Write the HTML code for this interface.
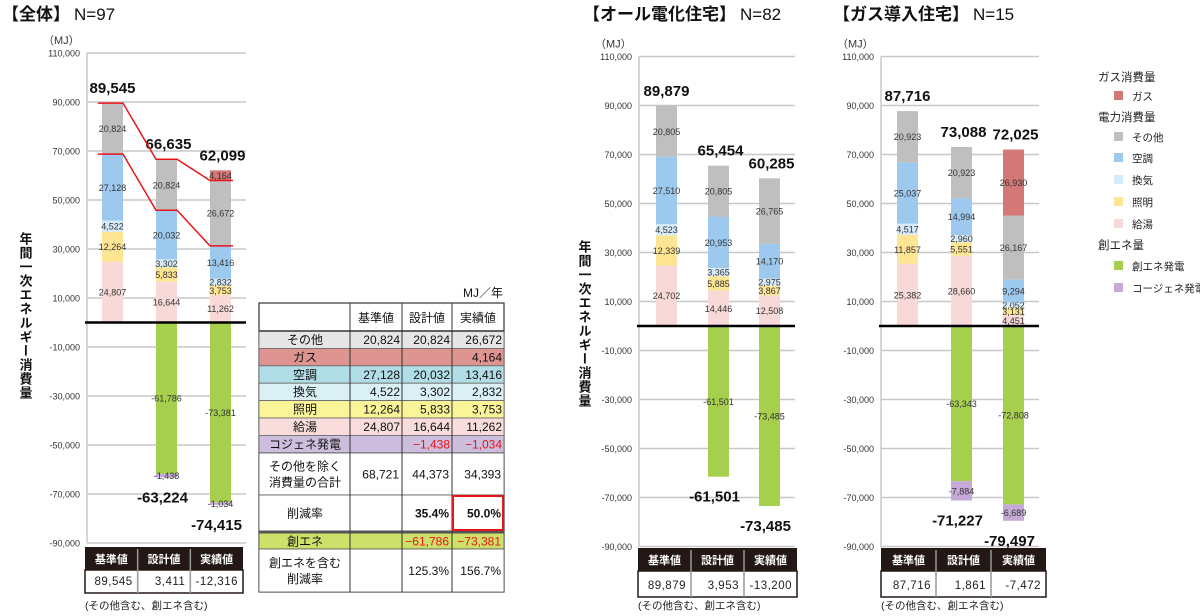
<!DOCTYPE html>
<html><head><meta charset="utf-8">
<style>
html,body{margin:0;padding:0;background:#fff;}
svg{display:block;font-family:"Liberation Sans","Noto Sans CJK JP",sans-serif;}
</style></head>
<body>
<svg id="root" width="1200" height="616" viewBox="0 0 1200 616" xmlns="http://www.w3.org/2000/svg">
<text x="2" y="20" font-size="17" font-weight="bold" fill="#111">【全体】<tspan font-weight="normal" dx="4">N=97</tspan></text>
<text x="583" y="20" font-size="17" font-weight="bold" fill="#111">【オール電化住宅】<tspan font-weight="normal" dx="4">N=82</tspan></text>
<text x="833" y="20" font-size="17" font-weight="bold" fill="#111">【ガス導入住宅】<tspan font-weight="normal" dx="4">N=15</tspan></text>
<g id="charts"></g>
<g id="table"></g>
<g id="legend"></g>
</svg>
<script>
// ---- data ----
const categories = ['基準値','設計値','実績値'];
const seriesNames = ['給湯','照明','換気','空調','その他','ガス'];
const negNames = ['創エネ','コジェネ'];
const tickValues = [110000,90000,70000,50000,30000,10000,-10000,-30000,-50000,-70000,-90000];
const tickLabels = ['110,000','90,000','70,000','50,000','30,000','10,000','-10,000','-30,000','-50,000','-70,000','-90,000'];
// chart A (全体)
const allHotWater = [24807,16644,11262];
const allLighting = [12264,5833,3753];
const allVent = [4522,3302,2832];
const allAC = [27128,20032,13416];
const allOther = [20824,20824,26672];
const allGas = [0,0,4164];
const allGen = [0,-61786,-73381];
const allCogen = [0,-1438,-1034];
const allNet = ['89,545','3,411','-12,316'];
// chart B (オール電化)
const elHotWater = [24702,14446,12508];
const elLighting = [12339,5885,3867];
const elVent = [4523,3365,2975];
const elAC = [27510,20953,14170];
const elOther = [20805,20805,26765];
const elGas = [0,0,0];
const elGen = [0,-61501,-73485];
const elCogen = [0,0,0];
const elNet = ['89,879','3,953','-13,200'];
// chart C (ガス導入)
const gsHotWater = [25382,28660,4451];
const gsLighting = [11857,5551,3131];
const gsVent = [4517,2960,2052];
const gsAC = [25037,14994,9294];
const gsOther = [20923,20923,26167];
const gsGas = [0,0,26930];
const gsGen = [0,-63343,-72808];
const gsCogen = [0,-7884,-6689];
const gsNet = ['87,716','1,861','-7,472'];

const colors = {'給湯':'#f7d9d8','照明':'#fde593','換気':'#d6ebf9','空調':'#9dc9ee','その他':'#bfbfbf','ガス':'#d37777','創エネ':'#a5cf4c','コジェネ':'#c5a9d6'};
const NS='http://www.w3.org/2000/svg';
function mk(tag, attrs, parent){const e=document.createElementNS(NS,tag);for(const k in attrs)e.setAttribute(k,attrs[k]);parent.appendChild(e);return e;}
const fmt = v => (v<0?'-':'')+Math.abs(v).toLocaleString('en-US');

function drawChart(cfg){
  const g = mk('g',{},document.getElementById('charts'));
  
  
  const k = 0.00245;
  const y = v => cfg.zero - v*k;
  const bx = i => cfg.barX[i];
  const bw = 21;
  // grid
  tickValues.forEach((tv,i)=>{
    const l = mk('line',{x1:cfg.axisX,x2:cfg.gridEnd,y1:y(tv),y2:y(tv),stroke:'#c8c8c8','stroke-width':1.5},g);
    
    
    const t = mk('text',{x:cfg.axisX-7,y:y(tv)+3.5,'font-size':9,'text-anchor':'end',fill:'#333'},g);
    t.textContent = tickLabels[i];
    
    
  });
  const ax = mk('line',{x1:cfg.axisX,x2:cfg.axisX,y1:y(110000),y2:y(-90000),stroke:'#c8c8c8','stroke-width':1.5},g);
  
  
  const mj = mk('text',{x:cfg.axisX-44,y:y(110000)-9,'font-size':11,fill:'#333'},g);
  mj.textContent='（MJ）';
  
  
  if(cfg.yTitle){
    const yt = mk('text',{x:cfg.yTitleX,y:cfg.yTitleY,'font-size':13,'font-weight':'bold','writing-mode':'tb',fill:'#111','letter-spacing':1},g);
    yt.textContent='年間一次エネルギー消費量';
    
    
  }
  categories.forEach((c,i)=>{
    let cum=0;
    cfg.pos.forEach((arr,si)=>{
      const v=arr[i]; if(!v) return;
      const r=mk('rect',{x:bx(i),y:y(cum+v),width:bw,height:v*k,fill:colors[seriesNames[si]]},g);
      
      
      const t=mk('text',{x:bx(i)+bw/2,y:y(cum+v/2)+3.5,'font-size':9,'text-anchor':'middle',fill:'#333'},g);
      t.textContent=fmt(v);
      
      
      cum+=v;
    });
    if(cum>0){
      const t=mk('text',{x:bx(i)+bw/2+(i===0?0:2),y:y(cum)-10,'font-size':15,'font-weight':'bold','text-anchor':'middle',fill:'#111'},g);
      t.textContent=fmt(cum);
      
      
    }
    let ncum=0;
    cfg.neg.forEach((arr,si)=>{
      const v=arr[i]; if(!v) return;
      const r=mk('rect',{x:bx(i),y:y(ncum),width:bw,height:-v*k,fill:colors[negNames[si]]},g);
      
      
      const t=mk('text',{x:bx(i)+bw/2,y:y(ncum+v/2)+3.5,'font-size':9,'text-anchor':'middle',fill:'#333'},g);
      t.textContent=fmt(v);
      
      
      ncum+=v;
    });
    if(ncum<0){
      const t=mk('text',{x:bx(i)+bw/2-4,y:y(ncum)+25,'font-size':15,'font-weight':'bold','text-anchor':'middle',fill:'#111'},g);
      t.textContent=fmt(ncum);
      
      
    }
  });
  const base = mk('line',{x1:cfg.axisX-2,x2:cfg.gridEnd,y1:y(0),y2:y(0),stroke:'#000','stroke-width':2.5},g);
  
  
  if(cfg.redLines){
    const tops=[],mids=[];
    categories.forEach((c,i)=>{
      let s=0; cfg.pos.slice(0,5).forEach(a=>s+=a[i]);
      tops.push(s); mids.push(s-cfg.pos[4][i]);
    });
    [tops,mids].forEach(vals=>{
      let d='';
      vals.forEach((v,i)=>{d+=(i?'L':'M')+(bx(i)-(i===0?4:0))+','+y(v)+'L'+(bx(i)+bw+(i===2?2:0))+','+y(v);});
      const p=mk('path',{d:d,fill:'none',stroke:'#e8141b','stroke-width':1.5},g);
      
      
    });
  }
  // bottom table
  const tx=cfg.tblX, tw=cfg.tblW, ty=cfg.tblY, cw=tw/3;
  const hdr=mk('rect',{x:tx,y:ty,width:tw,height:23,fill:'#231815'},g);
  
  
  const body=mk('rect',{x:tx,y:ty+23,width:tw,height:cfg.tblH-23,fill:'#fff',stroke:'#231815','stroke-width':1.5},g);
  
  
  categories.forEach((c,i)=>{
    if(i>0){const l=mk('line',{x1:tx+cw*i,x2:tx+cw*i,y1:ty+2,y2:ty+cfg.tblH,stroke:i? '#999':'#000','stroke-width':1.5},g);
      
      }
    const h=mk('text',{x:tx+cw*i+cw/2,y:ty+16,'font-size':11,'font-weight':'bold','text-anchor':'middle',fill:'#fff'},g);
    h.textContent=c;
    
    
    const v=mk('text',{x:tx+cw*i+cw-5,y:ty+cfg.tblH-8,'font-size':11.5,'text-anchor':'end',fill:'#222','letter-spacing':0.5},g);
    v.textContent=cfg.net[i];
    
    
  });
  const fn=mk('text',{x:tx,y:cfg.noteY,'font-size':10.5,fill:'#222'},g);
  fn.textContent='(その他含む、創エネ含む)';
  
  
}

drawChart({id:'all',zero:322.5,axisX:87,gridEnd:246,barX:[102,156,210],pos:[allHotWater,allLighting,allVent,allAC,allOther,allGas],neg:[allGen,allCogen],net:allNet,redLines:true,yTitle:true,yTitleX:25,yTitleY:232,tblX:85,tblW:158,tblY:547,tblH:46,noteY:609});
drawChart({id:'electric',zero:326,axisX:639,gridEnd:795,barX:[656,708,759],pos:[elHotWater,elLighting,elVent,elAC,elOther,elGas],neg:[elGen,elCogen],net:elNet,redLines:false,yTitle:true,yTitleX:584,yTitleY:240,tblX:638,tblW:159,tblY:548,tblH:49,noteY:609});
drawChart({id:'gas',zero:326,axisX:881,gridEnd:1039,barX:[897,951,1003],pos:[gsHotWater,gsLighting,gsVent,gsAC,gsOther,gsGas],neg:[gsGen,gsCogen],net:gsNet,redLines:false,yTitle:false,tblX:881,tblW:165,tblY:548,tblH:49,noteY:609});

// ---- summary table ----
const tblRowLabels = ['その他','ガス','空調','換気','照明','給湯','コジェネ発電'];
const tblBase = ['20,824','','27,128','4,522','12,264','24,807',''];
const tblDesign = ['20,824','','20,032','3,302','5,833','16,644','−1,438'];
const tblActual = ['26,672','4,164','13,416','2,832','3,753','11,262','−1,034'];
const tblFills = ['#e6e6e6','#de9591','#b0dde6','#daf0f4','#fbf59a','#f9dcdc','#cdbedd'];
(function(){
  const g=document.getElementById('table');
  const X=[259,350,402,452,504];
  const unit=mk('text',{x:503,y:297,'font-size':12,'text-anchor':'end',fill:'#111'},g);
  unit.textContent='MJ／年';
  
  
  const outer=mk('rect',{x:259,y:303,width:245,height:289,fill:'#fff',stroke:'#333','stroke-width':1.2},g);
  
  
  ['基準値','設計値','実績値'].forEach((h,i)=>{
    const t=mk('text',{x:(X[i+1]+X[i+2])/2,y:322,'font-size':12,'text-anchor':'middle',fill:'#111'},g);
    t.textContent=h;
    
    
  });
  const rh=17.4; let ry=331;
  tblRowLabels.forEach((lab,r)=>{
    const rr=mk('rect',{x:259,y:ry,width:245,height:rh,fill:tblFills[r],stroke:'#666','stroke-width':0.8},g);
    
    
    const t=mk('text',{x:305,y:ry+13,'font-size':12,'text-anchor':'middle',fill:'#111'},g);
    t.textContent=lab;
    
    
    [tblBase,tblDesign,tblActual].forEach((arr,c)=>{
      const v=mk('text',{x:X[c+2]-2,y:ry+13,'font-size':12,'text-anchor':'end',fill:arr[r].startsWith('−')?'#e8141b':'#111'},g);
      v.textContent=arr[r];
      
      
    });
    ry+=rh;
  });
  // other rows
  const rows=[
    {y:453,h:42,lab:['その他を除く','消費量の合計'],vals:['68,721','44,373','34,393'],fill:'#fff'},
    {y:495,h:36,lab:['削減率'],vals:['','35.4%','50.0%'],fill:'#fff',bold:true},
    {y:533,h:16,lab:['創エネ'],vals:['','−61,786','−73,381'],fill:'#cde06a',red:true},
    {y:549,h:43,lab:['創エネを含む','削減率'],vals:['','125.3%','156.7%'],fill:'#fff'}
  ];
  rows.forEach(ro=>{
    const rr=mk('rect',{x:259,y:ro.y,width:245,height:ro.h,fill:ro.fill,stroke:'#555','stroke-width':0.8},g);
    
    
    ro.lab.forEach((l,j)=>{
      const t=mk('text',{x:305,y:ro.y+ro.h/2+4.5+(ro.lab.length>1?(j?8:-8):0),'font-size':12,'text-anchor':'middle',fill:'#111'},g);
      t.textContent=l;
      
      
    });
    ro.vals.forEach((v,c)=>{
      const t=mk('text',{x:X[c+2]-3,y:ro.y+ro.h/2+4.5,'font-size':12,'text-anchor':'end','font-weight':ro.bold?'bold':'normal',fill:ro.red?'#e8141b':'#111'},g);
      t.textContent=v;
      
      
    });
  });
  const sep=mk('line',{x1:259,x2:504,y1:532,y2:532,stroke:'#555','stroke-width':3},g);
  
  
  [350,402,452].forEach(x=>{
    const l=mk('line',{x1:x,x2:x,y1:303,y2:592,stroke:'#333','stroke-width':1},g);
    
    
  });
  const hl=mk('line',{x1:259,x2:504,y1:331,y2:331,stroke:'#333','stroke-width':1.5},g);
  
  
  const box=mk('rect',{x:453,y:496,width:50,height:34,fill:'none',stroke:'#e8141b','stroke-width':2},g);
  
  
})();

// ---- legend ----
const legendItems = [['h','ガス消費量'],['i','ガス'],['h','電力消費量'],['i','その他'],['i','空調'],['i','換気'],['i','照明'],['i','給湯'],['h','創エネ量'],['i','創エネ発電'],['i','コージェネ発電']];
const legendColors = {'ガス':'#d37777','その他':'#bfbfbf','空調':'#9dc9ee','換気':'#d6ebf9','照明':'#fde593','給湯':'#f7d9d8','創エネ発電':'#a5cf4c','コージェネ発電':'#c5a9d6'};
(function(){
  const g=document.getElementById('legend');
  const ys=[77,96,117,137,158,180,202,224,245,266,288];
  legendItems.forEach((it,i)=>{
    if(it[0]==='h'){
      const t=mk('text',{x:1098,y:ys[i]+4,'font-size':11.5,fill:'#222'},g);
      t.textContent=it[1];
      
      
    } else {
      const r=mk('rect',{x:1114,y:ys[i]-5,width:9,height:9,fill:legendColors[it[1]]},g);
      
      
      const t=mk('text',{x:1132,y:ys[i]+4,'font-size':10.5,fill:'#222'},g);
      t.textContent=it[1];
      
      
    }
  });
})();
</script>
</body></html>
